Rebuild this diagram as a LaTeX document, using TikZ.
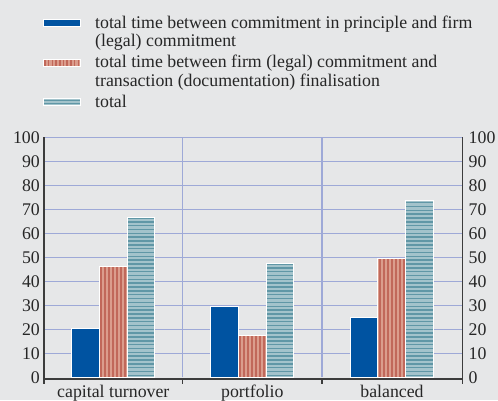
\documentclass[tikz,border=0pt]{standalone}
\usepackage{fontspec}
\setmainfont{Liberation Serif}
\usepackage{tikz}
\definecolor{bggray}{HTML}{E6E7E8}
\definecolor{gridblue}{HTML}{9EA9D7}
\definecolor{axisgray}{HTML}{3C3C3C}
\definecolor{barblue}{HTML}{0053A1}
\definecolor{barred}{HTML}{DB9D8D}
\definecolor{barredline}{HTML}{C1685A}
\definecolor{barteal}{HTML}{A3C3CB}
\definecolor{bartealline}{HTML}{6097A6}
\definecolor{textgray}{HTML}{262626}
\tikzset{
    lbl/.style={text=textgray, inner sep=0pt, font=\fontsize{17.8pt}{18.4pt}\selectfont},
    gridline/.style={gridblue, line width=1.2pt},
    axisline/.style={axisgray, line width=1.1pt}
}
\newcommand{\drawBlueBar}[2]{
    \filldraw[barblue, draw=white, line width=0.8pt] (#1,0) rectangle (#1+27.7,#2)
}
\newcommand{\drawRedBar}[2]{
    \fill[barred] (#1,0) rectangle (#1+27.7,#2);
    \foreach \s in {2,6,...,26} \draw[barredline, line width=1.7pt] (#1+\s,0) -- (#1+\s,#2);
    \draw[white, line width=0.8pt] (#1,0) rectangle (#1+27.7,#2)
}
\newcommand{\drawTealBar}[2]{
    \fill[barteal] (#1,0) rectangle (#1+27.7,#2);
    \foreach \s in {0.8,2.4,...,#2} \draw[bartealline, line width=1.5pt] (#1,\s) -- (#1+27.7,\s);
    \draw[white, line width=0.8pt] (#1,0) rectangle (#1+27.7,#2)
}

\begin{document}
\begin{tikzpicture}[x=1pt, y=1pt]
    \fill[bggray] (0,0) rectangle (498,400);
    \useasboundingbox (0,0) rectangle (498,400);

    % legend
    \filldraw[barblue, draw=white, line width=0.7pt] (43,373.8) rectangle (80,380.8);
    \fill[barred] (43,333.2) rectangle (80,340.2);
    \foreach \s in {45,48.7,...,79} \draw[barredline, line width=1.5pt] (\s,333.2) -- (\s,340.2);
    \draw[white, line width=0.7pt] (43,333.2) rectangle (80,340.2);
    \fill[barteal] (43,294.8) rectangle (80,301.8);
    \draw[bartealline, line width=1.3pt] (43,296.8) -- (80,296.8);
    \draw[bartealline, line width=1.3pt] (43,299.8) -- (80,299.8);
    \draw[white, line width=0.7pt] (43,294.8) rectangle (80,301.8);

    % multi-line nodes sit on the baseline of their last line
    \node[lbl, anchor=base west, align=left] (leg1) at (95,353.3) {total time between commitment in principle and firm\\(legal) commitment};
    \node[lbl, anchor=base west, align=left] (leg2) at (95,314) {total time between firm (legal) commitment and\\transaction (documentation) finalisation};
    \node[lbl, anchor=base west, align=left] (leg3) at (95,292.7) {total};

    \begin{scope}[yshift=22.7pt, y=2.4pt]
        % grid
        \foreach \v in {10,20,...,100} \draw[gridline] (44,\v) -- (462.5,\v);
        \draw[gridline] (182.5,0) -- (182.5,100);
        \draw[gridline] (322,0) -- (322,100);

        % bars
        \drawBlueBar{71.5}{20.2};
        \drawRedBar{99.2}{46.2};
        \drawTealBar{126.9}{66.6};
        \drawBlueBar{210.5}{29.4};
        \drawRedBar{238.2}{17.6};
        \drawTealBar{265.9}{47.3};
        \drawBlueBar{350}{24.8};
        \drawRedBar{377.7}{49.6};
        \drawTealBar{405.4}{73.8};

        % tick labels
        \foreach \v in {0,10,...,100} {
            \node[lbl, anchor=east] (tickL\v) at (40,\v) {\v};
            \node[lbl, anchor=west] (tickR\v) at (468.5,\v) {\v};
        }
    \end{scope}

    % axes
    \draw[axisline] (44,262.7) -- (44,16.5);
    \draw[axisline] (462.5,262.7) -- (462.5,16.5);
    \draw[axisline] (44,21) -- (462.5,21);
    \draw[axisline] (182.5,21) -- (182.5,16.5);
    \draw[axisline] (322,21) -- (322,16.5);

    \node[lbl, anchor=base] (catA) at (113.3,2.5) {capital turnover};
    \node[lbl, anchor=base] (catB) at (252.3,2.5) {portfolio};
    \node[lbl, anchor=base] (catC) at (392,2.5) {balanced};
\end{tikzpicture}
\end{document}
